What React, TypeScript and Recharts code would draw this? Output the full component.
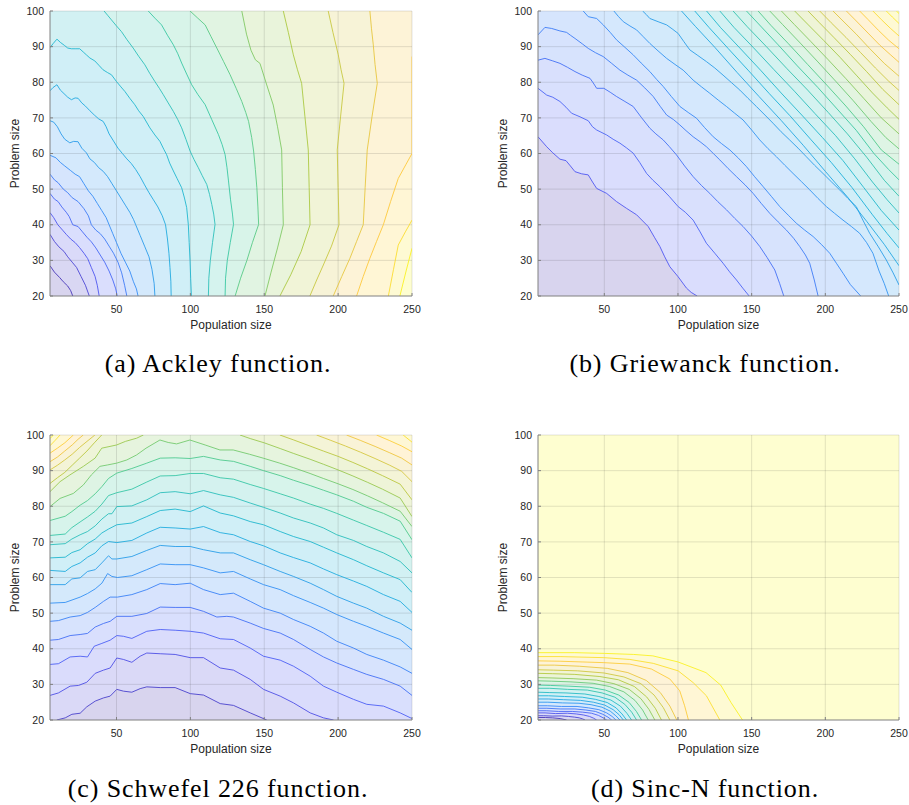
import React from 'react';
import { ComposedChart, Area, Line, XAxis, YAxis, ReferenceLine } from 'recharts';

type XY = [number, number];

const populationRange: [number, number] = [5, 250];
const problemRange: [number, number] = [20, 100];
const populationTicks = [50, 100, 150, 200, 250];
const problemTicks = [20, 30, 40, 50, 60, 70, 80, 90, 100];

// Ackley: iso-lines listed from the lowest level to the highest
const ackleyContours: XY[][] = [
  [[5,28.5],[8,26.7],[11.5,25.2],[14,24],[17,22.8],[19,21.5],[20.4,20]],
  [[5,37.3],[8,35.3],[11,33.8],[14.5,32.5],[17,31],[20,29.5],[23,28],[26,25.5],[29,23],[31.6,20]],
  [[5,43.4],[7.5,42],[10.3,40],[13.5,38.5],[16,37.3],[19,36],[22,35],[25,33.6],[28,32],[30.5,30.5],[33,28],[35.5,25.5],[37,23],[38.3,20]],
  [[5,48.8],[8,47.2],[10.5,46.5],[13,45],[16,43.5],[18,42.3],[20.4,40],[24,39.5],[27,38],[30,36.5],[33,35.2],[36,33.5],[39,31.5],[42,29.5],[45,27],[47.5,24.5],[49.5,22],[50.5,20]],
  [[5,54.2],[8,52.6],[10.5,51.8],[14,50],[17,49],[20,47.6],[24,46.5],[28,44.5],[31,42.5],[33,40],[36,38.5],[39,37.5],[42,36],[45,34],[48,32],[51,29.5],[53.5,26.5],[55.5,23],[57,20]],
  [[5,59.5],[9,58.8],[12,57.5],[15,56.5],[19,55.2],[22,54.2],[25,53.5],[28,51.5],[31,49.5],[34,48],[37,46],[40,44],[43,42],[45,40],[47.5,37.5],[50,35],[53,32],[56,29.5],[59,27],[61.5,24],[63.5,22],[64.6,20]],
  [[5,69.2],[7.5,68.8],[10,67.5],[12.5,65.5],[15,64],[18.4,63],[21,63.4],[24,63.3],[26.5,61.5],[29.6,60.2],[32,58.5],[35,57.5],[38,56],[41,55],[44,53.5],[47,51.5],[50,49.5],[53,47.5],[56,45.5],[59,43.5],[61.5,41.5],[63,40],[66,37],[69,34],[72,31],[74,27.5],[75.5,23.5],[76,20]],
  [[5,77.6],[7,78.5],[9.7,79.3],[12,77.8],[14.5,76.8],[17,75.8],[19.5,75.1],[22,75.6],[24,75.5],[26.5,74.2],[29,73.3],[32,72],[35,70.8],[38,69.7],[41,69],[43,67.5],[45,65.5],[48,63.5],[51,61.5],[54,60],[57,58.5],[60,57.2],[63,55.5],[66,53.5],[69,51.2],[72,49],[75,47],[78,45],[81,42.5],[83.2,40],[84.5,36],[85.5,32],[86.2,28],[86.8,24],[87,20]],
  [[5,89.7],[7,90.8],[9.7,92.1],[12,91.2],[14.9,90.3],[17,89.6],[19.5,89.4],[22,89.4],[25.1,89.4],[27.5,88.5],[29.6,87.7],[32,86.8],[35.3,86],[38,84.8],[40.9,83.5],[44,82.7],[46.6,82.1],[50,80.2],[53,78.7],[55.7,77.4],[59,75.5],[62.4,73.7],[65,72],[68.1,70.4],[72.6,67.2],[76,65.2],[79.4,63.4],[82,61.2],[83.9,59.7],[86,57.3],[88.5,55.1],[91,53],[94.1,50.4],[96,47.5],[97.5,44.8],[98.6,40.1],[99.2,35],[99.8,29.9],[100.2,25],[100.7,20]],
  [[41.6,100],[44,98.8],[46.6,97.5],[50,95.8],[53.4,94.2],[57,92],[61.3,89.6],[65,87.3],[69.2,84.9],[72.5,82.5],[76,80.2],[79,78.3],[81.7,76.5],[85,74.2],[88.5,71.8],[91.5,69.5],[94.1,67.2],[97,64],[99.8,60.7],[102.5,58.3],[105.4,56],[108,53.8],[111.1,51.3],[113,48.5],[114.5,45.7],[115.8,43],[116.7,40.1],[115,35],[113.5,30],[112.5,25],[112.2,20]],
  [[71.5,100],[76,98],[80.5,96.1],[84.5,93.2],[88.5,90.5],[91.5,88],[94.1,85.4],[97.5,82.3],[100.9,79.3],[105,76.6],[110,73.7],[114.5,69.5],[119,65.3],[121.5,62.5],[123.5,59.7],[124.8,56],[125.8,52.3],[127.2,47],[128.5,43],[129.2,40.1],[127,35],[125,30],[123.8,25],[123.5,20]],
  [[99.8,100],[105,98],[110,96.1],[114,92.8],[117.9,89.6],[122.5,85.8],[126.9,82.1],[131,78.3],[134.8,74.6],[137.5,71.5],[139.4,69],[141.5,64.5],[142.8,60.7],[144,55.5],[145,50.4],[145.7,45],[146.2,40.1],[142,35],[138.2,29.9],[134,25],[130.3,20]],
  [[134.8,100],[138,93.5],[141,89],[144,86.3],[147.1,85.3],[151.5,79.5],[156.1,73.6],[159,67.5],[161.8,61],[162.3,50.5],[162.9,40],[159,33.5],[154.5,26.5],[150.5,20]],
  [[162.9,100],[166.3,94],[169.7,87.7],[172.5,83.5],[175.3,79.7],[177.5,70.5],[179.8,61],[180.4,50.5],[181,40],[175,32.5],[168,26],[160.6,20]],
  [[193.3,100],[196.5,94],[200.1,87.7],[202,83.5],[204,79.7],[201.7,70.5],[199.4,61],[200,50.5],[200.6,40],[195.5,34],[190,28.7],[185.5,24.5],[180.9,20]],
  [[221.5,100],[222.6,95],[223.8,90.5],[225,85],[226.5,79.7],[223,70.5],[219.7,61],[218.3,50.5],[217,40],[212.5,35.3],[208,30.6],[202.5,25.5],[196.7,20]],
  [[250,87.2],[250,60],[246,57],[240.7,53],[235.5,46.5],[230.6,40],[226,35.3],[221.5,30.6],[217,25.5],[212.5,20]],
  [[250,41.3],[245.5,38],[240.7,34.3],[237.5,27.5],[234,20]],
  [[250,33.4],[246,27],[241.8,20]],
];

// Griewanck: iso-lines from the lowest level to the highest
const griewanckContours: XY[][] = [
  [[5,64.7],[10.9,61.9],[15,60.2],[19.9,58.4],[24,58],[27,56.5],[30.1,54.9],[34.6,54.3],[39.1,54],[42,52],[44.8,50.2],[51.6,48.8],[58.3,46.5],[65.1,44.6],[71.9,42.8],[79.8,39.5],[84,36.5],[87.7,33.9],[91,31],[94.5,28.2],[100.1,25.4],[105.8,22.2],[109,21],[113,20]],
  [[5,78.3],[10.9,76.4],[15,75.8],[19.9,74.6],[24,73],[27.8,71.3],[33.5,70.3],[39.1,69.2],[42,67.5],[44.8,66.6],[51.6,65.2],[56,64],[60.6,62.9],[65,61.6],[69.6,60.1],[74,57.5],[78.7,54.4],[83,52.5],[87.7,50.7],[94,48],[100.1,45.1],[105,43.5],[110.3,41.3],[115,38],[119.3,34.8],[125,32],[130.6,29.2],[135,26.8],[139.7,24.5],[144,22.2],[148.3,20]],
  [[5,86.2],[9.7,86.7],[15,86],[19.9,85.3],[25,84.2],[30.1,83],[35,82],[40.3,81.1],[42.5,79.8],[44.8,78.3],[49.7,78.3],[54,77.2],[58.3,76],[64,74.6],[69.6,73.2],[75,70.2],[80.9,67.1],[85,65.5],[90,63.8],[94,62],[99,59.6],[104.5,56.5],[110.3,53.5],[116,51],[121.6,48.8],[127,46.5],[132.9,44.2],[138.5,41.8],[144.2,39.5],[150,36.8],[155.5,33.9],[160.5,30.8],[165.7,27.3],[169,23.5],[171.8,20]],
  [[5,93.3],[9.7,95.4],[14.3,95.1],[19.9,94.4],[24.4,94],[27,93.2],[30.1,92.3],[35,90.8],[39.1,89.5],[44,88.3],[49.3,87.2],[55,85.3],[60.6,83.4],[66,82],[71.9,80.6],[77.5,78.4],[83.2,76],[88,73.2],[92.3,70.8],[97,69.5],[101.3,68],[105.5,66.4],[110.3,64.7],[115,63.3],[119.3,61.9],[124,60],[128.4,58.2],[134,55.8],[139.7,53.5],[145.5,51.2],[151,48.8],[156.5,46],[162.3,43.2],[168,40.8],[173.6,38.5],[178.5,36.2],[182.6,33.9],[186.5,31.5],[189.4,29.2],[192.5,24.5],[195.1,20]],
  [[35.7,100],[39.1,98.4],[44.8,97.9],[49.3,96.1],[54,94],[58.3,91.9],[64,89.8],[69.6,87.7],[75,85.4],[80.9,83],[85.5,80.8],[90,78.8],[95.5,76],[101.3,73.2],[107,71.5],[112.6,69.9],[118,67.3],[123.9,64.7],[129.5,62.8],[135.2,61],[141,58.7],[146.5,56.3],[152,53.5],[157.8,50.7],[163.5,47.9],[169.1,45.1],[174.8,42.7],[180.4,40.4],[186,38.5],[191.7,36.7],[197.5,34.4],[203,32],[207.5,29.2],[212,26.4],[217,23.2],[224,20]],
  [[56.5,100],[59.5,98.5],[62.9,97],[67.4,95.8],[71.9,94.7],[76.4,92.8],[80.9,90.9],[86.5,88.8],[92.3,86.7],[98,85],[103.5,83.4],[107,82],[110.3,80.6],[116,78.7],[121.6,76.9],[127.3,75],[132.9,73.2],[138.5,71.3],[144.2,69.4],[150,66.6],[155.5,63.8],[161,61.4],[166.8,59.1],[172.5,56.7],[178.1,54.4],[183.8,52.1],[189.4,49.8],[195,47.4],[200.7,45.1],[206.3,43.2],[212,41.3],[217.7,39.5],[223.3,37.6],[228,35],[232.3,32],[236.5,27],[240,23.5],[243,20]],
  [[76,100],[78.5,99],[80.9,97.9],[86.5,97],[92.3,96.1],[96,95],[100.1,93.7],[104,91.4],[108,89.1],[113.5,87.5],[119.3,85.8],[125,84],[130.6,82],[136.3,79.9],[142,77.8],[147.5,75.5],[153.2,73.2],[159,70.8],[164.5,68.5],[170,66.1],[175.8,63.8],[181.5,61.5],[187.1,59.1],[192.7,56.7],[198.4,54.4],[204,52.1],[209.7,49.8],[215.3,47.4],[221,45.1],[225.5,41.3],[230.1,37.6],[236,33.8],[241.4,30.1],[246,26.5],[250,23.1]],
  [[102.4,100],[112,95.6],[125,89.8],[140,82.8],[155,76],[170,69.3],[185,62.3],[200,55],[215,47.8],[228,41],[240,34.5],[250,28.5]],
  [[111.4,100],[121,95.4],[134,89.5],[148,83.2],[162,76.8],[176,70.6],[190,64],[204,57.5],[218,50.5],[232,42.8],[242,37.5],[250,33.5]],
  [[119.4,100],[129,95.3],[142,89.6],[156,83.4],[170,77],[184,70.8],[198,64.5],[212,58],[226,50.5],[238,44],[250,38.5]],
  [[128.4,100],[138,95.4],[151,89.8],[165,83.6],[179,77.5],[193,71.2],[207,65],[220,58.5],[232,52],[242,47],[250,43.3]],
  [[137.4,100],[147,95.6],[160,90],[174,83.8],[188,77.8],[202,71.5],[215,65.5],[228,59],[240,52.5],[250,48]],
  [[146.5,100],[156,95.8],[168,90.5],[181,84.6],[195,78.5],[208,72.5],[221,66.5],[233,60],[243,55.5],[250,52.6]],
  [[154.4,100],[163,96],[175,90.8],[188,85],[201,79.2],[214,73.3],[226,67.5],[238,61],[250,57]],
  [[162.3,100],[171,96.2],[183,91],[195,85.7],[207,80.3],[219,74.8],[231,69],[241,64.5],[250,61.3]],
  [[170.2,100],[179,96.2],[190,91.5],[202,86.3],[214,81],[226,75.5],[238,70],[250,65.5]],
  [[179.2,100],[188,96.3],[199,91.7],[210,87],[221,82],[232,77],[242,72.8],[250,69.6]],
  [[188.3,100],[196,96.7],[206,92.5],[217,87.8],[228,83],[239,78],[250,73.7]],
  [[196.2,100],[204,96.7],[214,92.6],[224,88.3],[234,84],[243,80.3],[250,77.7]],
  [[205.2,100],[212,97.2],[221,93.5],[230,89.5],[240,85.3],[250,81.7]],
  [[214.3,100],[221,97.2],[229,93.8],[237,90.4],[244,87.8],[250,85.6]],
  [[223.3,100],[229,97.6],[236,94.6],[243,91.8],[250,89.4]],
  [[232.3,100],[238,97.6],[244,95.2],[250,93]],
  [[241.4,100],[245.5,98.3],[250,96.5]],
  [[248.2,100],[250,99.3]],
];

// Schwefel 2.26: full-width iso-lines, then the top-left corner, then the top-right corner
const schwefelContours: XY[][] = [
  [[9.6,20],[15.3,20.6],[19.8,21.6],[25.4,21.9],[29.9,23.7],[35.6,25.3],[41.2,26.2],[45.7,26.7],[50.2,28.6],[54.7,28.1],[60.4,27.8],[66,28.8],[70.5,29.3],[79.6,29.1],[89.7,29.1],[99.9,27.4],[108.9,27],[120.2,24.6],[129.2,24.1],[140.5,22],[151.7,20]],
  [[5,26.9],[10.7,27.6],[18.6,29.5],[24.3,29.7],[29.9,30.6],[35.6,33.1],[41.2,34],[45.7,34.6],[50.2,37.4],[54.7,37],[60.4,36.2],[66,37.9],[70.5,38.8],[79.6,38.6],[89.7,38.4],[99.9,37.5],[108.9,37.5],[120.2,34.6],[129.2,34],[140.5,31.4],[149.5,28.6],[160.8,26.7],[169.8,24.8],[181.1,22],[190.1,20.6],[196.9,20]],
  [[5,35.6],[10.7,35.8],[18.6,37.7],[25.4,37.9],[30.4,37.7],[34.9,40.7],[40.1,41.5],[45.7,42.4],[50.2,43.7],[54.7,43.5],[60.4,42.9],[66,44],[70.5,44.9],[79.6,45.4],[89.7,45.2],[99.9,44.9],[108.9,44.4],[120.2,42.8],[129.2,42.6],[140.5,40.2],[149.5,37.9],[160.8,36.8],[169.8,35.1],[181.1,32.3],[190.1,29.5],[199.1,27.8],[210.4,25.8],[219.4,24.4],[230.7,23.9],[242,22],[250,20.4]],
  [[5,42.4],[10.7,42.6],[18.6,43.7],[25.4,44],[30.4,44.3],[35.6,46.1],[41.2,47.1],[45.7,47.7],[50.2,49.1],[60.4,49.1],[70.5,49.9],[79.6,51.7],[89.7,51.6],[99.9,51.6],[108.9,50.5],[117.9,48.9],[124.7,49.1],[129.2,48.9],[140.5,47.2],[149.5,45.7],[160.8,44.4],[169.8,42.6],[181.1,39.8],[190.1,37.7],[199.1,36],[210.4,34.2],[219.4,32.8],[230.7,31.4],[242,29.5],[250,26.9]],
  [[5,47.7],[10.7,47.9],[18.6,48.9],[25.4,49.3],[30.4,50.2],[35.6,51.6],[41.2,53.3],[45.7,54.5],[50.7,54.5],[60.4,55.2],[70.5,56.6],[79.6,58.3],[89.7,58],[99.9,58.4],[108.9,56.6],[120.2,55.2],[129.2,55.6],[140.5,53.3],[149.5,51.4],[160.8,50],[169.8,48.2],[181.1,46.3],[190.1,44.4],[199.1,42.1],[210.4,40.2],[219.4,38.4],[230.7,36.8],[242,34.9],[250,33.1]],
  [[5,52.8],[15.3,53],[25.4,54.5],[30.4,55.5],[35.6,56.8],[40.1,58.4],[44,61.1],[46.9,60.3],[50.7,60],[60.4,60.5],[70.5,62.2],[79.6,63.8],[89.7,63.6],[99.9,63.6],[108.9,62.7],[120.2,61.3],[129.2,61.7],[140.5,59.6],[149.5,58],[160.8,56.6],[169.8,54.9],[181.1,53],[190.1,51.4],[199.1,49.6],[210.4,47.7],[219.4,46.3],[230.7,44.4],[242,42.6],[250,39.8]],
  [[5,58],[15.3,58],[19.8,59.6],[25.4,59.9],[30.4,61.7],[35.6,62.2],[40.1,64.1],[44.6,66.1],[46.9,65.2],[50.2,65.2],[60.4,65.9],[70.5,67.6],[79.6,69],[89.7,68.7],[99.9,68.7],[108.9,67.8],[120.2,66.9],[129.2,66.9],[140.5,65],[149.5,63.6],[160.8,61.7],[169.8,60.3],[181.1,58.4],[190.1,56.6],[199.1,54.7],[210.4,52.8],[219.4,51.4],[230.7,49.1],[242,47.2],[250,45.2]],
  [[5,62],[15.3,61.7],[19.8,63.1],[25.4,64.1],[30.4,65.7],[35.6,66.9],[40.1,68.9],[44.6,70.1],[50.2,69.8],[60.4,70.4],[70.5,72.5],[79.6,74.1],[89.7,73.9],[99.9,73.6],[108.9,74.3],[120.2,72.6],[129.2,72],[140.5,70.1],[149.5,68.9],[160.8,66.9],[169.8,65.6],[181.1,64.1],[190.1,62.4],[199.1,60.8],[210.4,59],[219.4,57.5],[230.7,55.2],[242,53.3],[250,50.2]],
  [[5,65.5],[15.3,65.7],[19.8,67],[25.4,67.8],[30.4,69.5],[35.6,70.8],[40.1,72.5],[44.6,73.6],[50.2,74.8],[60.4,75.3],[70.5,77.1],[79.6,78.8],[89.7,79.2],[99.9,78.5],[108.9,80.1],[120.2,78.1],[129.2,77.3],[140.5,75.7],[149.5,74.8],[160.8,72.9],[169.8,71.5],[181.1,70.1],[190.1,68.5],[199.1,66.9],[210.4,65],[219.4,63.3],[230.7,61.3],[242,59.4],[250,55.8]],
  [[5,69.2],[15.3,69.5],[19.8,70.8],[25.4,72],[30.4,72.9],[35.6,74.5],[40.1,76.4],[44.6,77.9],[46.9,77.9],[50.2,79.9],[60.4,80.1],[70.5,81.8],[79.6,83.8],[89.7,84.1],[99.9,83.5],[108.9,84.4],[120.2,83.2],[129.2,82.5],[140.5,80.9],[149.5,79.7],[160.8,78.1],[169.8,76.7],[181.1,75.3],[190.1,73.9],[199.1,72],[210.4,70.4],[219.4,68.7],[230.7,66.9],[242,64.5],[250,61.3]],
  [[5,71.8],[15.3,72.2],[19.8,74],[25.4,75.6],[30.4,77],[35.6,78.6],[40.1,80.6],[44.6,83],[50.2,83.8],[60.4,84.8],[70.5,86.8],[79.6,88.5],[89.7,88.6],[99.9,89.2],[108.9,89.2],[120.2,88],[129.2,87.6],[140.5,86.1],[149.5,85],[160.8,83.5],[169.8,82.3],[181.1,80.6],[190.1,79.4],[199.1,78],[210.4,76.1],[219.4,74.6],[230.7,72.7],[242,70.7],[250,65.5]],
  [[5,76],[15.3,77.2],[19.8,78.5],[25.4,80.3],[30.4,81.6],[35.6,83.5],[40.1,85.5],[44.6,87.8],[50.2,89.3],[60.4,90.6],[70.5,92.1],[79.6,93.5],[89.7,93.6],[99.9,93.4],[108.9,94],[120.2,93],[129.2,92.6],[140.5,91.2],[149.5,90],[160.8,88.6],[169.8,87.3],[181.1,85.8],[190.1,84.5],[199.1,83.2],[210.4,81.4],[219.4,79.7],[230.7,78],[242,75.8],[250,70.6]],
  [[5,79.9],[11.8,82.2],[20.8,83.6],[27.6,86],[33,88.8],[38.8,91.2],[44,91.6],[50.1,92.1],[57,93],[63.6,94.4],[70,96.3],[79.4,98.6],[85,97.9],[90.7,97.5],[99.7,98.6],[110,97.2],[120,95.8],[129,95.8],[140,94.6],[149.3,93.5],[160.5,92.1],[170,90.8],[181,89.2],[190,87.8],[200,86.3],[210,84.7],[220,82.9],[230,81],[242,78.6],[250,74.3]],
  [[5,84.1],[11.8,86.9],[18.5,88.8],[27.6,91.2],[35.5,93.5],[40,96.3],[50.1,97.2],[56,98.2],[63.6,99.1],[68.2,100]],
  [[5,86.4],[10,88],[15,89.5],[20,91.5],[25,93.5],[30,95.5],[35,97.8],[40,100]],
  [[5,90.2],[10,91.5],[15,93],[20,94.6],[25,96.5],[30,98.2],[35.4,100]],
  [[5,92.5],[10,93.8],[15,95.5],[20,97.2],[24,98.8],[27.5,100]],
  [[5,94.9],[10,96.3],[15,97.8],[20.8,100]],
  [[5,97],[8.5,98.5],[11.8,100]],
  [[5,99],[7.3,100]],
  [[133.6,100],[140.5,99],[150,97.8],[160.8,96.2],[170,94.8],[181,93.2],[190,91.8],[200,90.2],[210,88.5],[220,86.7],[230,84.8],[242,82.3],[250,77.1]],
  [[160.6,100],[170,98.6],[181,96.9],[190,95.5],[200,94],[210,92.3],[220,90.5],[230,88.6],[242,86.2],[250,81.8]],
  [[185.4,100],[195,98.5],[205,96.9],[215,95.2],[225,93.4],[235,91.5],[243,89.8],[250,86.9]],
  [[205.7,100],[215,98.5],[225,96.8],[235,95],[243,93.5],[250,91.6]],
  [[226,100],[235,98.4],[243,96.9],[250,95.3]],
  [[244,100],[250,98]],
];
const schwefelLevels = [0,1,2,3,4,5,6,7,8,9,10,11,12, 13,14,15,16,17,18,19, 13,14,15,16,17,18];

// Sinc-N: nested iso-lines around the lower-left corner, innermost (lowest) first
const sincContours: XY[][] = [
  [[5,20.7],[10,20.7],[15,20.6],[20,20.4],[24.4,20]],
  [[5,21.2],[8.8,21.2],[14.6,21.1],[21,21.15],[25.7,21],[29.9,20.8],[33,20.6],[35.3,20.3],[36.9,20]],
  [[5,22],[9.8,22],[17,21.8],[25,21.9],[31,21.7],[36,21.4],[40,21],[42.8,20.5],[44.8,20]],
  [[5,22.6],[10.6,22.6],[19,22.4],[28.3,22.4],[35.3,22.2],[41.3,21.9],[46,21.3],[49.3,20.6],[51.6,20]],
  [[5,23.3],[11,23.3],[20,23.1],[30,23.1],[37.5,22.8],[44,22.4],[49,21.6],[52.5,20.8],[55,20]],
  [[5,24],[11.3,24],[21,23.8],[31.5,23.8],[39.4,23.4],[46.3,22.9],[51.6,22],[55.3,21],[57.9,20]],
  [[5,25],[11.7,25],[21.7,24.8],[32.8,24.7],[41,24.3],[48.4,23.6],[54,22.5],[57.8,21.2],[60.6,20]],
  [[5,25.9],[12,25.9],[22.4,25.7],[34,25.5],[42.6,25],[50.2,24.2],[56,22.9],[60,21.5],[62.9,20]],
  [[5,26.8],[12.2,26.8],[23,26.6],[35,26.4],[44,25.8],[52,24.9],[58,23.4],[62,21.7],[65.1,20]],
  [[5,27.8],[12.6,27.7],[24,27.6],[36.8,27.3],[46.3,26.6],[54.5,25.6],[60.9,23.9],[65.3,21.9],[68.5,20]],
  [[5,28.9],[13,28.9],[25,28.6],[38.5,28.4],[48.5,27.6],[57.2,26.4],[63.9,24.4],[68.6,22.2],[71.9,20]],
  [[5,29.8],[13.4,29.7],[26,29.5],[40,29.2],[50.7,28.4],[59.8,27],[66.9,24.9],[71.8,22.4],[75.3,20]],
  [[5,31],[14,30.9],[27.4,30.7],[42.4,30.3],[53.6,29.4],[63.3,27.9],[70.8,25.5],[76,22.8],[79.8,20]],
  [[5,31.9],[14.5,31.8],[28.8,31.6],[44.7,31.2],[56.5,30.2],[66.9,28.6],[74.8,26],[80.3,23],[84.3,20]],
  [[5,33.1],[15,33],[30,32.8],[47,32.2],[59.5,31.3],[70.4,29.4],[78.7,26.5],[84.6,23.3],[88.8,20]],
  [[5,34.1],[15.7,34],[31.9,33.8],[49.8,33.2],[63.2,32.1],[74.8,30.2],[83.8,27],[90,23.5],[94.5,20]],
  [[5,35.4],[16,35.4],[33,35.1],[52,34.5],[66,33.3],[78.5,31.1],[88,27.7],[94.5,23.9],[99.2,20]],
  [[5,36.6],[20,36.5],[49.7,36.1],[67.3,35.7],[82,34.3],[94.5,31.5],[101.2,28.2],[104.5,24],[107.1,20]],
  [[5,37.8],[20,37.8],[49.7,37.5],[67.3,37],[83.2,35.9],[100.1,33.8],[110.3,30.5],[119.3,26.8],[128.4,20]],
  [[5,38.9],[30,38.9],[50,38.7],[70,38.4],[83,38],[100,36.3],[119,33.3],[129,29.8],[136,24.9],[143.8,20]],
];

const captions = [
  '(a) Ackley function.',
  '(b) Griewanck function.',
  '(c) Schwefel 226 function.',
  '(d) Sinc-N function.',
];

const FONT = '"Liberation Sans", Arial, Helvetica, sans-serif';
const INK = '#262626';

// parula colormap anchors
const PARULA: [number, number, number][] = [
  [62, 38, 168], [72, 82, 244], [46, 135, 247], [18, 177, 214],
  [55, 200, 151], [171, 199, 57], [254, 195, 56], [249, 251, 21],
];

function parulaRgb(t: number): [number, number, number] {
  const c = Math.min(1, Math.max(0, t)) * (PARULA.length - 1);
  const i = Math.min(PARULA.length - 2, Math.floor(c));
  const f = c - i;
  const a = PARULA[i];
  const b = PARULA[i + 1];
  return [0, 1, 2].map((k) => a[k] + (b[k] - a[k]) * f) as [number, number, number];
}
function parula(t: number) {
  const [r, g, b] = parulaRgb(t);
  return `rgb(${Math.round(r)},${Math.round(g)},${Math.round(b)})`;
}
// translucent surface shade seen over a white background
function surface(t: number) {
  const alpha = 0.2;
  const [r, g, b] = parulaRgb(t).map((v) => 255 * (1 - alpha) + v * alpha);
  return `rgb(${Math.round(r)},${Math.round(g)},${Math.round(b)})`;
}

const toPoints = (pts: XY[]) => pts.map(([x, y]) => ({ x, y }));

// region on the high side of an iso-line, closed along the lower edge where needed
function regionAbove(pts: XY[]) {
  const out = toPoints(pts);
  const first = pts[0];
  const last = pts[pts.length - 1];
  if (first[1] === problemRange[0] && first[0] > populationRange[0]) {
    out.unshift({ x: populationRange[0], y: problemRange[0] });
  }
  if (last[1] === problemRange[0] && last[0] < populationRange[1]) {
    out.push({ x: populationRange[1], y: problemRange[0] });
  }
  return out;
}

const wholePlot = [
  { x: populationRange[0], y: problemRange[0] },
  { x: populationRange[1], y: problemRange[0] },
];

type PanelProps = {
  contours: XY[][];
  levels: number[];
  colorStart?: number;
  left: number;
  top: number;
  width: number;
  rightMargin: number;
};

function ContourPanel({ contours, levels, colorStart = 0, left, top, width, rightMargin }: PanelProps) {
  const levelCount = Math.max(...levels) + 1;
  const paintOrder = contours.map((_, i) => i).sort((a, b) => levels[a] - levels[b]);
  const colorAt = (v: number) => colorStart + (1 - colorStart) * (v / levelCount);
  const tick = { fontSize: 10.5, fill: INK, fontFamily: FONT };
  const gridStyle = { stroke: INK, strokeOpacity: 0.13, strokeWidth: 1 };
  return (
    <div style={{ position: 'absolute', left, top }}>
      <ComposedChart
        width={width}
        height={340}
        margin={{ top: 11, right: rightMargin, left: 0, bottom: 0 }}
      >
        <XAxis
          type="number"
          dataKey="x"
          domain={populationRange}
          ticks={populationTicks}
          allowDataOverflow
          height={44}
          tick={tick}
          tickSize={-3}
          tickMargin={13}
          stroke="#808080"
          label={{ value: 'Population size', position: 'insideBottom', offset: 11, fontSize: 12, fill: INK, fontFamily: FONT }}
        />
        <YAxis
          type="number"
          domain={problemRange}
          ticks={problemTicks}
          allowDataOverflow
          width={50}
          tick={tick}
          tickSize={-3}
          tickMargin={9}
          stroke="#808080"
          label={{ value: 'Problem size', angle: -90, position: 'center', dx: -10, fontSize: 12, fill: INK, fontFamily: FONT }}
        />
        <Area
          data={wholePlot}
          dataKey="y"
          type="linear"
          baseValue={problemRange[1]}
          fill={surface(0)}
          fillOpacity={1}
          stroke="none"
          dot={false}
          activeDot={false}
          isAnimationActive={false}
        />
        {paintOrder.map((i) => (
          <Area
            key={`band-${i}`}
            data={regionAbove(contours[i])}
            dataKey="y"
            type="linear"
            baseValue={problemRange[1]}
            fill={surface(colorAt(levels[i] + 1))}
            fillOpacity={1}
            stroke="none"
            dot={false}
            activeDot={false}
            isAnimationActive={false}
          />
        ))}
        {populationTicks.map((v) => (
          <ReferenceLine key={`gx-${v}`} x={v} {...gridStyle} />
        ))}
        {problemTicks.slice(1).map((v) => (
          <ReferenceLine key={`gy-${v}`} y={v} {...gridStyle} />
        ))}
        {contours.map((c, i) => (
          <Line
            key={`iso-${i}`}
            data={toPoints(c)}
            dataKey="y"
            type="linear"
            stroke={parula(colorAt(levels[i] + 0.5))}
            strokeWidth={1}
            strokeOpacity={0.85}
            dot={false}
            activeDot={false}
            legendType="none"
            isAnimationActive={false}
          />
        ))}
      </ComposedChart>
    </div>
  );
}

const indexLevels = (lines: XY[][]) => lines.map((_, i) => i);

function Caption({ text, center, top }: { text: string; center: number; top: number }) {
  return (
    <div
      style={{
        position: 'absolute',
        left: center - 220,
        top,
        width: 440,
        textAlign: 'center',
        fontFamily: '"Liberation Serif", "Times New Roman", serif',
        fontSize: 26,
        lineHeight: '26px',
        letterSpacing: 0.9,
        color: '#000',
        whiteSpace: 'nowrap',
      }}
    >
      {text}
    </div>
  );
}

export default function App() {
  return (
    <div style={{ position: 'absolute', left: 0, top: 0, width: 909, height: 805, background: '#fff', overflow: 'hidden' }}>
      <ContourPanel contours={ackleyContours} levels={indexLevels(ackleyContours)} left={0} top={0} width={430} rightMargin={18} />
      <ContourPanel contours={griewanckContours} levels={indexLevels(griewanckContours)} colorStart={0.12} left={488} top={0} width={421} rightMargin={10} />
      <ContourPanel contours={schwefelContours} levels={schwefelLevels} colorStart={0.04} left={0} top={424} width={430} rightMargin={18} />
      <ContourPanel contours={sincContours} levels={indexLevels(sincContours)} left={488} top={424} width={421} rightMargin={10} />
      <Caption text={captions[0]} center={218} top={351} />
      <Caption text={captions[1]} center={705} top={351} />
      <Caption text={captions[2]} center={218} top={776} />
      <Caption text={captions[3]} center={705} top={776} />
    </div>
  );
}
